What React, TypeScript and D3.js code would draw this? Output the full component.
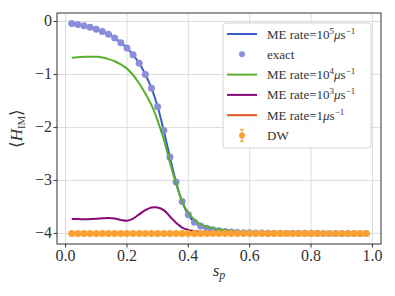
import * as React from "react";
import * as d3 from "d3";

// s_p sample points
const sp = [
  0.02, 0.04, 0.06, 0.08, 0.1, 0.12, 0.14, 0.16, 0.18, 0.2,
  0.22, 0.24, 0.26, 0.28, 0.3, 0.32, 0.34, 0.36, 0.38, 0.4,
  0.42, 0.44, 0.46, 0.48, 0.5, 0.52, 0.54, 0.56, 0.58, 0.6,
  0.62, 0.64, 0.66, 0.68, 0.7, 0.72, 0.74, 0.76, 0.78, 0.8,
  0.82, 0.84, 0.86, 0.88, 0.9, 0.92, 0.94, 0.96, 0.98,
];

const exact = [
  -0.04, -0.057, -0.08, -0.11, -0.145, -0.19, -0.24, -0.31, -0.4, -0.5,
  -0.63, -0.79, -1.0, -1.26, -1.61, -2.06, -2.56, -3.03, -3.4, -3.65,
  -3.79, -3.86, -3.905, -3.93, -3.95, -3.965, -3.975, -3.982, -3.987, -3.99,
  -3.992, -3.994, -3.995, -3.996, -3.997, -3.997, -3.998, -3.998, -3.999, -3.999,
  -3.999, -4, -4, -4, -4, -4, -4, -4, -4,
];

const meRate1e5 = [
  -0.04, -0.057, -0.08, -0.11, -0.145, -0.19, -0.24, -0.31, -0.4, -0.5,
  -0.63, -0.79, -1.0, -1.26, -1.61, -2.06, -2.56, -3.03, -3.4, -3.65,
  -3.79, -3.86, -3.905, -3.93, -3.95, -3.965, -3.975, -3.982, -3.987, -3.99,
  -3.992, -3.994, -3.995, -3.996, -3.997, -3.997, -3.998, -3.998, -3.999, -3.999,
  -3.999, -4, -4, -4, -4, -4, -4, -4, -4,
];

const meRate1e4 = [
  -0.685, -0.675, -0.668, -0.665, -0.668, -0.68, -0.71, -0.75, -0.81, -0.89,
  -1.01, -1.17, -1.36, -1.58, -1.87, -2.22, -2.66, -3.06, -3.4, -3.61,
  -3.74, -3.83, -3.87, -3.9, -3.925, -3.94, -3.955, -3.97, -3.98, -3.985,
  -3.99, -3.993, -3.995, -3.996, -3.997, -3.998, -3.998, -3.999, -3.999, -4,
  -4, -4, -4, -4, -4, -4, -4, -4, -4,
];

const meRate1e3 = [
  -3.73, -3.73, -3.735, -3.73, -3.725, -3.715, -3.71, -3.72, -3.745, -3.76,
  -3.72, -3.64, -3.56, -3.51, -3.51, -3.56, -3.68, -3.8, -3.89, -3.935,
  -3.955, -3.97, -3.98, -3.99, -3.995, -3.997, -3.998, -3.999, -4, -4,
  -4, -4, -4, -4, -4, -4, -4, -4, -4, -4,
  -4, -4, -4, -4, -4, -4, -4, -4, -4,
];

const meRate1 = [
  -4, -4, -4, -4, -4, -4, -4, -4, -4, -4,
  -4, -4, -4, -4, -4, -4, -4, -4, -4, -4,
  -4, -4, -4, -4, -4, -4, -4, -4, -4, -4,
  -4, -4, -4, -4, -4, -4, -4, -4, -4, -4,
  -4, -4, -4, -4, -4, -4, -4, -4, -4,
];

const dw = [
  -4, -4, -4, -4, -4, -4, -4, -4, -4, -4,
  -4, -4, -4, -4, -4, -4, -4, -4, -4, -4,
  -4, -4, -4, -4, -4, -4, -4, -4, -4, -4,
  -4, -4, -4, -4, -4, -4, -4, -4, -4, -4,
  -4, -4, -4, -4, -4, -4, -4, -4, -4,
];
const dwErr = 0.01;

const xTicks = [0, 0.2, 0.4, 0.6, 0.8, 1.0];
const yTicks = [0, -1, -2, -3, -4];

const BLUE = "#3c5cc8";
const EXACT = "#8a8ed8";
const GREEN = "#5aae2e";
const PURPLE = "#850a78";
const RED = "#e0561e";
const ORANGE = "#f9a233";

const FONT = "Liberation Serif";

export default function App() {
  const W = 395;
  const H = 296;
  const left = 57, right = 381, top = 13, bottom = 244;

  const x = d3.scaleLinear().domain([-0.028, 1.028]).range([left, right]);
  const y = d3.scaleLinear().domain([-4.2, 0.16]).range([bottom, top]);

  const line = (vals: number[]) =>
    d3.line<number>()
      .x((_, i) => x(sp[i]))
      .y((d) => y(d))
      .curve(d3.curveCatmullRom)(vals) || "";

  const legendItems = [
    { kind: "line", color: BLUE, label: "5" },
    { kind: "dot", color: EXACT, label: "exact" },
    { kind: "line", color: GREEN, label: "4" },
    { kind: "line", color: PURPLE, label: "3" },
    { kind: "line", color: RED, label: "1" },
    { kind: "err", color: ORANGE, label: "DW" },
  ];

  const lx = 223, ly = 23, lw = 148, lh = 125;

  return (
    <div style={{ position: "absolute", left: 0, top: 0 }}>
      <svg width={W} height={H} style={{ display: "block", background: "#fff" }}>
        {/* grid */}
        {xTicks.map((t) => (
          <line key={"gx" + t} x1={x(t)} x2={x(t)} y1={top} y2={bottom} stroke="#dcdcdc" strokeWidth={1} />
        ))}
        {yTicks.map((t) => (
          <line key={"gy" + t} x1={left} x2={right} y1={y(t)} y2={y(t)} stroke="#dcdcdc" strokeWidth={1} />
        ))}

        <defs>
          <clipPath id="plot">
            <rect x={left} y={top} width={right - left} height={bottom - top} />
          </clipPath>
        </defs>

        <g clipPath="url(#plot)">
          <path d={line(meRate1e5)} fill="none" stroke={BLUE} strokeWidth={2} />
          {exact.map((v, i) => (
            <circle key={"e" + i} cx={x(sp[i])} cy={y(v)} r={3.5} fill={EXACT} />
          ))}
          <path d={line(meRate1e4)} fill="none" stroke={GREEN} strokeWidth={2} />
          <path d={line(meRate1e3)} fill="none" stroke={PURPLE} strokeWidth={2} />
          <path d={line(meRate1)} fill="none" stroke={RED} strokeWidth={2} />
          {dw.map((v, i) => (
            <g key={"d" + i}>
              <line x1={x(sp[i])} x2={x(sp[i])} y1={y(v - dwErr)} y2={y(v + dwErr)} stroke={ORANGE} strokeWidth={1.2} />
              <circle cx={x(sp[i])} cy={y(v)} r={3.5} fill={ORANGE} />
            </g>
          ))}
        </g>

        {/* spines */}
        <rect x={left} y={top} width={right - left} height={bottom - top} fill="none" stroke="#333" strokeWidth={1} />

        {/* ticks */}
        {xTicks.map((t) => (
          <g key={"tx" + t}>
            <line x1={x(t)} x2={x(t)} y1={bottom} y2={bottom + 3.5} stroke="#333" />
            <text x={x(t)} y={bottom + 17} textAnchor="middle" fontFamily={FONT} fontSize={16} fill="#333">
              {t.toFixed(1)}
            </text>
          </g>
        ))}
        {yTicks.map((t) => (
          <g key={"ty" + t}>
            <line x1={left - 3.5} x2={left} y1={y(t)} y2={y(t)} stroke="#333" />
            <text x={left - 5} y={y(t) + 5} textAnchor="end" fontFamily={FONT} fontSize={16} fill="#333">
              {t === 0 ? "0" : "\u2212" + Math.abs(t)}
            </text>
          </g>
        ))}

        {/* axis labels */}
        <text x={(left + right) / 2} y={276} textAnchor="middle" fontFamily={FONT} fontSize={17} fill="#333">
          <tspan fontStyle="italic">s</tspan>
          <tspan fontStyle="italic" fontSize={12} dy={3}>p</tspan>
        </text>
        <text
          transform={`translate(22,${(top + bottom) / 2}) rotate(-90)`}
          textAnchor="middle"
          fontFamily={FONT}
          fontSize={17}
          fill="#333"
        >
          {"\u27E8"}
          <tspan fontStyle="italic">H</tspan>
          <tspan fontSize={11} dy={3}>IM</tspan>
          <tspan dy={-3}>{"\u27E9"}</tspan>
        </text>

        {/* legend */}
        <rect x={lx} y={ly} width={lw} height={lh} rx={3} fill="#fff" fillOpacity={0.85} stroke="#d4d4d4" />
        {legendItems.map((it, i) => {
          const cy = 34 + i * 20.3;
          return (
            <g key={"l" + i}>
              {it.kind === "line" && (
                <line x1={227} x2={257} y1={cy} y2={cy} stroke={it.color} strokeWidth={2} />
              )}
              {it.kind === "dot" && <circle cx={242} cy={cy} r={3} fill={it.color} />}
              {it.kind === "err" && (
                <g>
                  <line x1={242} x2={242} y1={cy - 6} y2={cy + 6} stroke={it.color} strokeWidth={1.2} />
                  <line x1={240} x2={244} y1={cy - 6} y2={cy - 6} stroke={it.color} strokeWidth={1.2} />
                  <line x1={240} x2={244} y1={cy + 6} y2={cy + 6} stroke={it.color} strokeWidth={1.2} />
                  <circle cx={242} cy={cy} r={3} fill={it.color} />
                </g>
              )}
              <text x={267} y={cy + 4.5} fontFamily={FONT} fontSize={13} fill="#333">
                {it.label === "exact" || it.label === "DW" ? (
                  it.label
                ) : it.label === "1" ? (
                  <>
                    ME rate=1<tspan fontStyle="italic">μ</tspan>s
                    <tspan fontSize={9} dy={-5}>{"\u22121"}</tspan>
                  </>
                ) : (
                  <>
                    ME rate=10<tspan fontSize={9} dy={-5}>{it.label}</tspan>
                    <tspan dy={5} fontStyle="italic">μ</tspan>s
                    <tspan fontSize={9} dy={-5}>{"\u22121"}</tspan>
                  </>
                )}
              </text>
            </g>
          );
        })}
      </svg>
    </div>
  );
}
